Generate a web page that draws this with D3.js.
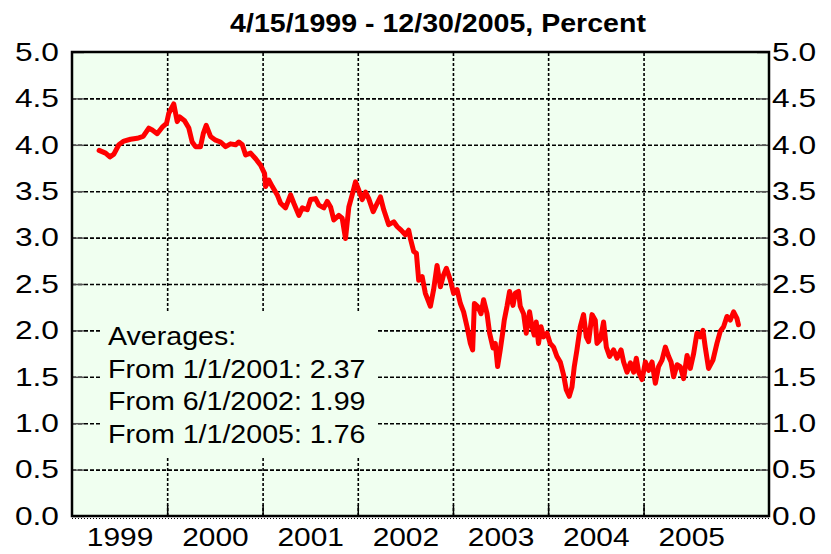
<!DOCTYPE html>
<html>
<head>
<meta charset="utf-8">
<script src="https://cdnjs.cloudflare.com/ajax/libs/d3/7.8.5/d3.min.js"></script>
<style>
body{margin:0;background:#fff;}
svg{display:block;font-family:"Liberation Sans",Arial,Helvetica,sans-serif;}
</style>
</head>
<body>
<div id="chart"></div>
<script>
// dates as decimal years
var years = [1999.285,1999.353,1999.398,1999.440,1999.492,1999.545,1999.615,1999.685,1999.748,1999.807,
  1999.843,1999.895,1999.948,1999.993,2000.017,2000.069,2000.105,2000.132,2000.182,2000.227,
  2000.262,2000.297,2000.349,2000.378,2000.409,2000.454,2000.507,2000.559,2000.612,2000.664,
  2000.717,2000.751,2000.787,2000.822,2000.874,2000.927,2000.979,2001.021,2001.031,2001.066,
  2001.102,2001.154,2001.189,2001.241,2001.294,2001.328,2001.381,2001.417,2001.469,2001.504,
  2001.556,2001.591,2001.643,2001.679,2001.714,2001.748,2001.801,2001.836,2001.871,2001.906,
  2001.941,2001.976,2002.011,2002.047,2002.081,2002.115,2002.162,2002.204,2002.238,2002.273,
  2002.325,2002.378,2002.413,2002.455,2002.500,2002.535,2002.553,2002.588,2002.616,2002.640,
  2002.676,2002.710,2002.763,2002.797,2002.833,2002.868,2002.902,2002.931,2002.973,2003.007,
  2003.043,2003.078,2003.112,2003.148,2003.183,2003.207,2003.225,2003.259,2003.295,2003.322,
  2003.358,2003.385,2003.421,2003.445,2003.469,2003.497,2003.522,2003.539,2003.568,2003.595,
  2003.631,2003.655,2003.689,2003.707,2003.742,2003.770,2003.805,2003.830,2003.854,2003.875,
  2003.899,2003.925,2003.952,2003.988,2004.022,2004.057,2004.092,2004.127,2004.162,2004.190,
  2004.221,2004.250,2004.274,2004.302,2004.337,2004.371,2004.400,2004.424,2004.460,2004.494,
  2004.512,2004.547,2004.581,2004.610,2004.644,2004.686,2004.722,2004.764,2004.791,2004.827,
  2004.862,2004.896,2004.924,2004.949,2004.984,2005.019,2005.054,2005.089,2005.124,2005.158,
  2005.194,2005.229,2005.263,2005.289,2005.316,2005.352,2005.386,2005.421,2005.457,2005.491,
  2005.526,2005.561,2005.596,2005.624,2005.648,2005.683,2005.729,2005.771,2005.806,2005.841,
  2005.876,2005.911,2005.946,2005.981,2005.997];
var values = [3.94,3.91,3.87,3.90,4.00,4.04,4.06,4.07,4.09,4.18,
  4.16,4.12,4.19,4.23,4.34,4.44,4.25,4.30,4.26,4.18,
  4.03,3.98,3.98,4.12,4.21,4.09,4.05,4.03,3.98,4.01,
  4.00,4.03,4.00,3.89,3.91,3.85,3.78,3.69,3.55,3.62,
  3.55,3.46,3.37,3.32,3.46,3.37,3.24,3.32,3.30,3.41,
  3.42,3.35,3.32,3.39,3.33,3.19,3.24,3.21,2.99,3.33,
  3.46,3.60,3.51,3.41,3.49,3.42,3.28,3.37,3.44,3.30,
  3.14,3.17,3.12,3.08,3.03,3.08,2.99,2.85,2.83,2.54,
  2.58,2.40,2.26,2.44,2.70,2.47,2.60,2.67,2.54,2.40,
  2.44,2.29,2.20,2.04,1.86,1.79,2.29,2.26,2.18,2.33,
  2.18,1.97,1.81,1.86,1.61,1.79,1.97,2.11,2.26,2.42,
  2.27,2.40,2.42,2.26,2.18,1.97,2.20,2.04,1.95,2.09,
  1.86,2.04,1.93,1.97,1.86,1.82,1.72,1.66,1.52,1.36,
  1.29,1.39,1.61,1.79,2.04,2.17,1.93,1.88,2.17,2.11,
  1.86,1.90,2.09,1.82,1.72,1.79,1.70,1.79,1.66,1.55,
  1.65,1.55,1.70,1.55,1.47,1.66,1.57,1.66,1.43,1.61,
  1.68,1.82,1.72,1.66,1.50,1.63,1.61,1.48,1.73,1.59,
  1.75,1.97,1.93,2.00,1.82,1.59,1.68,1.86,1.99,2.04,
  2.15,2.11,2.20,2.13,2.06];

var yTicks = [0,0.5,1,1.5,2,2.5,3,3.5,4,4.5,5];
var yearLabels = [1999,2000,2001,2002,2003,2004,2005];
var yearBreaks = [2000,2001,2002,2003,2004,2005];
var xEnd = 2006.318;
var titleText = "4/15/1999 - 12/30/2005, Percent";
var notes = ["Averages:","From 1/1/2001: 2.37","From 6/1/2002: 1.99","From 1/1/2005: 1.76"];

function decToDate(d){
  var yr = Math.floor(d);
  var s = Date.UTC(yr,0,1), e = Date.UTC(yr+1,0,1);
  return new Date(s + (d-yr)*(e-s));
}

// horizontal stretch for text (reference type is wider than Arial)
function stretch(sel, k){
  sel.each(function(){
    var t = d3.select(this);
    var tx = +t.attr("x") || 0;
    t.attr("x",0).attr("transform","translate("+tx+",0) scale("+k+",1)");
  });
}

var W = 831, H = 554;
var pL = 72, pR = 769, pT = 52, pB = 516;

var x = d3.scaleUtc()
  .domain([decToDate(1999), decToDate(xEnd)])
  .range([pL, pR]);
var y = d3.scaleLinear().domain([0,5]).range([pB, pT]);

var svg = d3.select("#chart").append("svg")
  .attr("width",W).attr("height",H);

// plot background
svg.append("rect")
  .attr("x",pL).attr("y",pT)
  .attr("width",pR-pL).attr("height",pB-pT)
  .attr("fill","#f0fff0");

// horizontal grid
var gy = svg.append("g")
  .attr("transform","translate("+pL+",0)")
  .call(d3.axisLeft(y).tickValues(yTicks.filter(function(d){return d>0 && d<5;}))
    .tickSize(-(pR-pL)).tickFormat(""));
gy.select(".domain").remove();
gy.selectAll("line").attr("stroke","#000").attr("stroke-width",1.6).attr("stroke-dasharray","4,2");

// vertical grid at year breaks
var gx = svg.append("g")
  .attr("transform","translate(0,"+pB+")")
  .call(d3.axisBottom(x).tickValues(yearBreaks.map(function(d){return decToDate(d);}))
    .tickSize(-(pB-pT)).tickFormat(""));
gx.select(".domain").remove();
gx.selectAll("line").attr("stroke","#000").attr("stroke-width",1.6).attr("stroke-dasharray","3,2");

// note box hides grid behind the text
svg.append("rect")
  .attr("x",100).attr("y",313).attr("width",277).attr("height",145)
  .attr("fill","#f0fff0");

var note = svg.append("g").attr("font-size","26px").attr("fill","#000");
notes.forEach(function(s,i){
  note.append("text")
    .attr("transform","translate(108,"+(345+i*32.7)+") scale(1.1,1)")
    .text(s);
});

// the series
var line = d3.line()
  .x(function(d,i){return x(decToDate(years[i]));})
  .y(function(d){return y(d);});

svg.append("path")
  .datum(values)
  .attr("d",line)
  .attr("fill","none")
  .attr("stroke","#ff0000")
  .attr("stroke-width",5)
  .attr("stroke-linejoin","round")
  .attr("stroke-linecap","round");

// short inner ticks (gray) on both sides
var tl = svg.append("g").attr("transform","translate("+pL+",0)")
  .call(d3.axisRight(y).tickValues(yTicks).tickSize(12).tickFormat(""));
tl.select(".domain").remove();
tl.selectAll("line").attr("stroke","#555").attr("stroke-width",1.5);
var tr = svg.append("g").attr("transform","translate("+pR+",0)")
  .call(d3.axisLeft(y).tickValues(yTicks).tickSize(12).tickFormat(""));
tr.select(".domain").remove();
tr.selectAll("line").attr("stroke","#555").attr("stroke-width",1.5);

// short year-break ticks at bottom
var tb = svg.append("g").attr("transform","translate(0,"+pB+")")
  .call(d3.axisTop(x).tickValues(yearBreaks.map(function(d){return decToDate(d);}))
    .tickSize(11).tickFormat(""));
tb.select(".domain").remove();
tb.selectAll("line").attr("stroke","#000").attr("stroke-width",1.5);

// frame
svg.append("rect")
  .attr("x",pL).attr("y",pT)
  .attr("width",pR-pL).attr("height",pB-pT)
  .attr("fill","none").attr("stroke","#000").attr("stroke-width",2.5);
svg.append("line")
  .attr("x1",pL).attr("x2",pR).attr("y1",pB+2.5).attr("y2",pB+2.5)
  .attr("stroke","#000").attr("stroke-width",1).attr("stroke-dasharray","1,2");

// y labels, both sides
var fmt = d3.format(".1f");
var ay = svg.append("g").attr("transform","translate("+pL+",0)")
  .call(d3.axisLeft(y).tickValues(yTicks).tickSize(0).tickPadding(13).tickFormat(fmt));
var ay2 = svg.append("g").attr("transform","translate("+pR+",0)")
  .call(d3.axisRight(y).tickValues(yTicks).tickSize(0).tickPadding(3).tickFormat(fmt));
[ay,ay2].forEach(function(a){
  a.select(".domain").remove();
  a.selectAll("text").attr("font-size","26px").attr("fill","#000")
    .attr("font-family","'Liberation Sans',Arial,sans-serif");
  stretch(a.selectAll("text"),1.22);
});

// year labels, centred in each year
var ax = svg.append("g").attr("transform","translate(0,"+pB+")")
  .call(d3.axisBottom(x).tickValues(yearLabels.map(function(d){return decToDate(d+0.5);}))
    .tickSize(0).tickPadding(12).tickFormat(d3.utcFormat("%Y")));
ax.select(".domain").remove();
ax.selectAll("text").attr("font-size","26px").attr("fill","#000")
  .attr("font-family","'Liberation Sans',Arial,sans-serif");
stretch(ax.selectAll("text"),1.15);

// title
svg.append("text")
  .attr("transform","translate(438,32) scale(1.12,1)")
  .attr("text-anchor","middle")
  .attr("font-size","25.5px")
  .attr("font-weight","bold")
  .text(titleText);
</script>
</body>
</html>
